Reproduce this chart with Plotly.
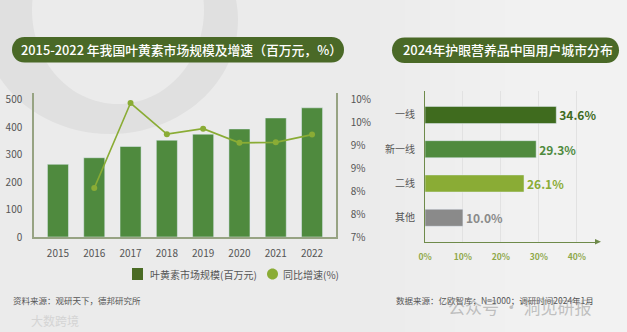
import plotly.graph_objects as go

W, H = 627, 332

# ---------------- data ----------------
years = ["2015", "2016", "2017", "2018", "2019", "2020", "2021", "2022"]
market_size = [265, 289, 330, 353, 375, 394, 434, 471]          # 百万元
growth = [None, 8.07, 9.93, 9.25, 9.37, 9.06, 9.07, 9.24]       # %
size_ticks = [0, 100, 200, 300, 400, 500]
growth_ticks = [7, 7.5, 8, 8.5, 9, 9.5, 10]
growth_tick_text = ["7%", "8%", "8%", "9%", "9%", "10%", "10%"]

cities = ["一线", "新一线", "二线", "其他"]
city_share = [34.6, 29.3, 26.1, 10.0]
share_ticks = [0, 10, 20, 30, 40]
share_tick_text = ["0%", "10%", "20%", "30%", "40%"]

left_title = "2015-2022 年我国叶黄素市场规模及增速（百万元，%）"
right_title = "2024年护眼营养品中国用户城市分布"
legend_bar = "叶黄素市场规模(百万元)"
legend_line = "同比增速(%)"
src_left = "资料来源：观研天下，德邦研究所"
src_right = "数据来源：亿欧智库；N=1000；调研时间2024年1月"
wm_right = "公众号 · 洞见研报"
wm_left = "大数跨境"

FONT = "Noto Sans CJK SC"
BG = "#ebebeb"
BAR_GREEN = "#4f8a3e"
LINE_GREEN = "#8aac35"
PILL = "#4a6927"
AXIS = "#97a383"
city_colors = ["#3f6b1e", "#4f8a3e", "#8aac35", "#8a8a8a"]


def fx(px):
    return px / W


def fy(py):
    return 1 - py / H


def pix_shape(path, **kw):
    return dict(type="path", xref="paper", yref="paper", xsizemode="pixel", ysizemode="pixel",
                xanchor=0, yanchor=0, path=path, **kw)


def P(x, y):
    return f"{x:.2f},{H - y:.2f}"


def pill_path(x0, y0, x1, y1):
    r = (y1 - y0) / 2
    k = 4 / 3 * r
    return (f"M{P(x0 + r, y0)} L{P(x1 - r, y0)} C{P(x1 - r + k, y0)} {P(x1 - r + k, y1)} {P(x1 - r, y1)} "
            f"L{P(x0 + r, y1)} C{P(x0 + r - k, y1)} {P(x0 + r - k, y0)} {P(x0 + r, y0)} Z")


def ellipse(cx, cy, rx, ry, ccw=False):
    c = 0.5523
    if not ccw:
        return (f"M{P(cx + rx, cy)} C{P(cx + rx, cy + c * ry)} {P(cx + c * rx, cy + ry)} {P(cx, cy + ry)} "
                f"C{P(cx - c * rx, cy + ry)} {P(cx - rx, cy + c * ry)} {P(cx - rx, cy)} "
                f"C{P(cx - rx, cy - c * ry)} {P(cx - c * rx, cy - ry)} {P(cx, cy - ry)} "
                f"C{P(cx + c * rx, cy - ry)} {P(cx + rx, cy - c * ry)} {P(cx + rx, cy)} Z")
    return (f"M{P(cx + rx, cy)} C{P(cx + rx, cy - c * ry)} {P(cx + c * rx, cy - ry)} {P(cx, cy - ry)} "
            f"C{P(cx - c * rx, cy - ry)} {P(cx - rx, cy - c * ry)} {P(cx - rx, cy)} "
            f"C{P(cx - rx, cy + c * ry)} {P(cx - c * rx, cy + ry)} {P(cx, cy + ry)} "
            f"C{P(cx + c * rx, cy + ry)} {P(cx + rx, cy + c * ry)} {P(cx + rx, cy)} Z")


fig = go.Figure()

# left: bars + growth line
fig.add_trace(go.Bar(x=years, y=market_size, marker_color=BAR_GREEN, width=0.58,
                     xaxis="x", yaxis="y", showlegend=False, hoverinfo="x+y"))
fig.add_trace(go.Scatter(x=years, y=growth, mode="lines+markers", xaxis="x", yaxis="y2",
                         line=dict(color=LINE_GREEN, width=1.6),
                         marker=dict(color=LINE_GREEN, size=6), showlegend=False, cliponaxis=False))

# right: horizontal bars
fig.add_trace(go.Bar(x=city_share, y=cities, orientation="h", xaxis="x2", yaxis="y3",
                     marker_color=city_colors, width=0.5,
                     text=[f"{v:.1f}%" for v in city_share], textposition="outside",
                     textfont=dict(color=city_colors, size=12, family=FONT, weight=600),
                     cliponaxis=False, showlegend=False))

tickfont = dict(family=FONT, size=10, color="#555555")

fig.update_layout(
    width=W, height=H, margin=dict(l=0, r=0, t=0, b=0, autoexpand=False),
    paper_bgcolor=BG, plot_bgcolor="rgba(0,0,0,0)",
    font=dict(family=FONT),
    showlegend=False,
    bargap=0.42,
    xaxis=dict(domain=[fx(34), fx(336)], anchor="y", type="category", range=[-0.66, 7.66],
               showline=True, linecolor=AXIS, linewidth=1.5, ticks="", tickfont=tickfont,
               ticklabelstandoff=6, showgrid=False, fixedrange=True, automargin=False),
    yaxis=dict(domain=[fy(237), fy(93)], anchor="x", range=[0, 525], tickvals=size_ticks,
               showline=True, linecolor=AXIS, linewidth=1.5, ticks="", tickfont=tickfont,
               ticklabelstandoff=8, showgrid=False, zeroline=False, automargin=False),
    yaxis2=dict(overlaying="y", side="right", anchor="x", range=[7, 10.15],
                tickvals=growth_ticks, ticktext=growth_tick_text,
                showline=True, linecolor=AXIS, linewidth=1.5, ticks="", tickfont=tickfont,
                ticklabelstandoff=11, showgrid=False, zeroline=False, automargin=False),
    xaxis2=dict(domain=[fx(425), fx(598)], anchor="y3", range=[0, 45.6], tickvals=share_ticks,
                ticktext=share_tick_text, showline=True, linecolor="#6e8a4a", linewidth=1.2,
                showgrid=True, gridcolor="#e2e2e2", gridwidth=1, zeroline=False, ticks="",
                tickfont=dict(family=FONT, size=8.5, color="#8fa84a", weight=600),
                ticklabelstandoff=7, automargin=False),
    yaxis3=dict(domain=[fy(241.7), fy(91)], anchor="x2", type="category",
                categoryorder="array", categoryarray=cities[::-1], range=[-0.7, 3.7],
                showline=True, linecolor="#6e8a4a", linewidth=1.2, ticks="",
                tickfont=dict(family=FONT, size=10, color="#555555"), ticklabelstandoff=7,
                showgrid=False, automargin=False),
)

shapes = []
# watermark ring (top-left)
shapes.append(pix_shape(ellipse(110, 20, 128, 114) + " " + ellipse(118, 10, 86, 94, ccw=True),
                        fillcolor="#e0e0e0", line=dict(width=0), layer="below"))
# lighter right-side background gradient
for i in range(8):
    shapes.append(dict(type="rect", xref="paper", yref="paper", x0=fx(380 + i * 25), x1=1,
                       y0=0, y1=1, fillcolor="white", opacity=0.07, line=dict(width=0),
                       layer="below"))
# title pills
shapes.append(pix_shape(pill_path(12, 37, 344, 62.5), fillcolor=PILL, line=dict(width=0)))
shapes.append(pix_shape(pill_path(392, 37.5, 619, 63), fillcolor=PILL, line=dict(width=0)))
# legend markers
shapes.append(pix_shape(f"M{P(132, 268)} L{P(143, 268)} L{P(143, 280)} L{P(132, 280)} Z",
                        fillcolor="#4a6b24", line=dict(width=0)))
shapes.append(pix_shape(ellipse(272.5, 274, 5.5, 5.5), fillcolor=LINE_GREEN, line=dict(width=0)))
# arrow head on right x axis
shapes.append(pix_shape(f"M{P(595, 239)} L{P(601, 241.7)} L{P(595, 244.4)} Z",
                        fillcolor="#6e8a4a", line=dict(width=0)))
fig.update_layout(shapes=shapes)


def note(x, y, text, size, color, xanchor="center", weight=None):
    f = dict(family=FONT, size=size, color=color)
    if weight:
        f["weight"] = weight
    return dict(x=fx(x), y=fy(y), xref="paper", yref="paper", text=text, showarrow=False,
                xanchor=xanchor, yanchor="middle", font=f)


ann = [
    note(181, 49.5, left_title, 12.8, "white", weight=500),
    note(508, 50, right_title, 12.9, "white", weight=500),
    note(148, 274, legend_bar, 10, "#555555", "left"),
    note(281, 274, legend_line, 10, "#555555", "left"),
    note(11, 300, src_left, 8.5, "#555555", "left"),
    note(394, 300, src_right, 8.5, "#555555", "left"),
    note(520, 306, wm_right, 17, "rgba(140,140,140,0.5)"),
    note(55, 320, wm_left, 12, "#d4d4d4"),
]
fig.update_layout(annotations=ann)

fig.write_html("out.html")
